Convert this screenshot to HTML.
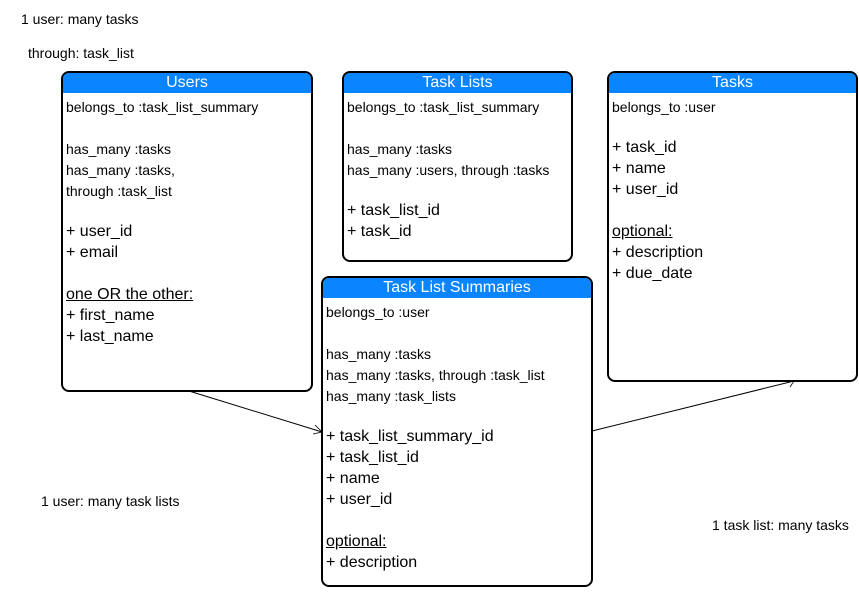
<!DOCTYPE html>
<html><head><style>
body{margin:0;width:859px;height:592px;background:#fff;position:relative;overflow:hidden;font-family:"Liberation Sans",sans-serif;color:#000}
.box{position:absolute;border:2px solid #000;border-radius:8px;background:#fff;box-sizing:border-box;overflow:hidden}
.hd{background:#0a84ff;color:#fff;text-align:center;font-size:16px;height:20px;line-height:19px}
.l{position:absolute;left:3px;font-size:14px;white-space:nowrap;line-height:16px}
.b{font-size:16px}
.u{text-decoration:underline}
.t{position:absolute;font-size:14px;white-space:nowrap}
</style></head><body>
<svg width="859" height="592" style="position:absolute;left:0;top:0">
<line x1="189" y1="391" x2="322" y2="432" stroke="#000" stroke-width="1"/>
<path d="M315 425 L322 432 L313 434" fill="none" stroke="#000" stroke-width="0.8"/>
<line x1="592" y1="431" x2="794" y2="381" stroke="#000" stroke-width="1"/>
<path d="M786 377 L794 381 L790 387" fill="none" stroke="#000" stroke-width="0.8"/>
</svg>
<div class="t" style="left:21px;top:11px">1 user: many tasks</div>
<div class="t" style="left:28px;top:45px">through: task_list</div>
<div class="t" style="left:41px;top:493px">1 user: many task lists</div>
<div class="t" style="left:712px;top:517px">1 task list: many tasks</div>

<div class="box" style="left:61px;top:71px;width:252px;height:321px">
<div class="hd">Users</div>
<div class="l" style="top:26px">belongs_to :task_list_summary</div>
<div class="l" style="top:68px">has_many :tasks</div>
<div class="l" style="top:89px">has_many :tasks,</div>
<div class="l" style="top:110px">through :task_list</div>
<div class="l b" style="top:151px">+ user_id</div>
<div class="l b" style="top:172px">+ email</div>
<div class="l b u" style="top:214px">one OR the other:</div>
<div class="l b" style="top:235px">+ first_name</div>
<div class="l b" style="top:256px">+ last_name</div>
</div>

<div class="box" style="left:342px;top:71px;width:231px;height:191px">
<div class="hd">Task Lists</div>
<div class="l" style="top:26px">belongs_to :task_list_summary</div>
<div class="l" style="top:68px">has_many :tasks</div>
<div class="l" style="top:89px">has_many :users, through :tasks</div>
<div class="l b" style="top:130px">+ task_list_id</div>
<div class="l b" style="top:151px">+ task_id</div>
</div>

<div class="box" style="left:607px;top:71px;width:251px;height:311px">
<div class="hd">Tasks</div>
<div class="l" style="top:26px">belongs_to :user</div>
<div class="l b" style="top:67px">+ task_id</div>
<div class="l b" style="top:88px">+ name</div>
<div class="l b" style="top:109px">+ user_id</div>
<div class="l b u" style="top:151px">optional:</div>
<div class="l b" style="top:172px">+ description</div>
<div class="l b" style="top:193px">+ due_date</div>
</div>

<div class="box" style="left:321px;top:276px;width:272px;height:311px">
<div class="hd">Task List Summaries</div>
<div class="l" style="top:26px">belongs_to :user</div>
<div class="l" style="top:68px">has_many :tasks</div>
<div class="l" style="top:89px">has_many :tasks, through :task_list</div>
<div class="l" style="top:110px">has_many :task_lists</div>
<div class="l b" style="top:151px">+ task_list_summary_id</div>
<div class="l b" style="top:172px">+ task_list_id</div>
<div class="l b" style="top:193px">+ name</div>
<div class="l b" style="top:214px">+ user_id</div>
<div class="l b u" style="top:256px">optional:</div>
<div class="l b" style="top:277px">+ description</div>
</div>
</body></html>
